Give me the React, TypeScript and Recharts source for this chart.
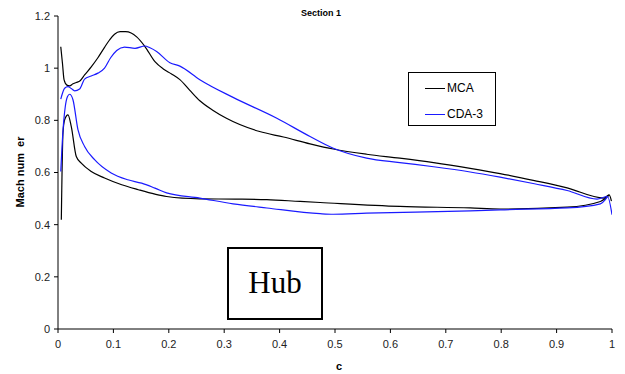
import React from "react";
import { LineChart, Line, XAxis, YAxis } from "recharts";

const xTicks = [0, 0.1, 0.2, 0.3, 0.4, 0.5, 0.6, 0.7, 0.8, 0.9, 1];
const yTicks = [0, 0.2, 0.4, 0.6, 0.8, 1, 1.2];

const mcaUpper = [
  { c: 0.005, m: 1.082 }, { c: 0.008, m: 1.02 }, { c: 0.011, m: 0.955 }, { c: 0.016, m: 0.935 },
  { c: 0.021, m: 0.932 }, { c: 0.027, m: 0.94 }, { c: 0.033, m: 0.945 }, { c: 0.04, m: 0.952 },
  { c: 0.048, m: 0.974 }, { c: 0.06, m: 1.005 }, { c: 0.072, m: 1.04 }, { c: 0.084, m: 1.08 },
  { c: 0.093, m: 1.108 }, { c: 0.102, m: 1.13 }, { c: 0.112, m: 1.14 }, { c: 0.122, m: 1.14 },
  { c: 0.132, m: 1.135 }, { c: 0.142, m: 1.12 }, { c: 0.157, m: 1.083 }, { c: 0.175, m: 1.025 },
  { c: 0.19, m: 0.997 }, { c: 0.205, m: 0.978 }, { c: 0.22, m: 0.956 }, { c: 0.238, m: 0.915 },
  { c: 0.256, m: 0.875 }, { c: 0.28, m: 0.838 }, { c: 0.304, m: 0.808 }, { c: 0.364, m: 0.757 },
  { c: 0.407, m: 0.736 }, { c: 0.455, m: 0.71 }, { c: 0.497, m: 0.69 }, { c: 0.557, m: 0.67 },
  { c: 0.617, m: 0.655 }, { c: 0.678, m: 0.638 }, { c: 0.744, m: 0.616 }, { c: 0.798, m: 0.596 },
  { c: 0.86, m: 0.569 }, { c: 0.919, m: 0.541 }, { c: 0.985, m: 0.502 }, { c: 0.995, m: 0.514 },
  { c: 0.999, m: 0.49 },
];

const mcaLower = [
  { c: 0.006, m: 0.419 }, { c: 0.009, m: 0.752 }, { c: 0.012, m: 0.802 }, { c: 0.018, m: 0.821 },
  { c: 0.024, m: 0.776 }, { c: 0.033, m: 0.661 }, { c: 0.042, m: 0.636 }, { c: 0.06, m: 0.604 },
  { c: 0.084, m: 0.579 }, { c: 0.115, m: 0.553 }, { c: 0.145, m: 0.534 }, { c: 0.175, m: 0.517 },
  { c: 0.196, m: 0.508 }, { c: 0.256, m: 0.499 }, { c: 0.32, m: 0.498 }, { c: 0.377, m: 0.496 },
  { c: 0.437, m: 0.489 }, { c: 0.473, m: 0.485 }, { c: 0.617, m: 0.47 }, { c: 0.744, m: 0.464 },
  { c: 0.798, m: 0.46 }, { c: 0.919, m: 0.467 }, { c: 0.979, m: 0.489 }, { c: 0.995, m: 0.514 },
];

const cdaUpper = [
  { c: 0.005, m: 0.881 }, { c: 0.012, m: 0.923 }, { c: 0.018, m: 0.929 }, { c: 0.024, m: 0.922 },
  { c: 0.03, m: 0.913 }, { c: 0.039, m: 0.92 }, { c: 0.048, m: 0.958 }, { c: 0.06, m: 0.97 },
  { c: 0.072, m: 0.981 }, { c: 0.084, m: 1.0 }, { c: 0.095, m: 1.04 }, { c: 0.106, m: 1.068 },
  { c: 0.12, m: 1.081 }, { c: 0.139, m: 1.076 }, { c: 0.157, m: 1.085 }, { c: 0.166, m: 1.078 },
  { c: 0.178, m: 1.064 }, { c: 0.202, m: 1.021 }, { c: 0.22, m: 1.008 }, { c: 0.256, m: 0.956 },
  { c: 0.316, m: 0.888 }, { c: 0.395, m: 0.808 }, { c: 0.455, m: 0.738 }, { c: 0.497, m: 0.693 },
  { c: 0.557, m: 0.655 }, { c: 0.617, m: 0.638 }, { c: 0.678, m: 0.622 }, { c: 0.744, m: 0.602 },
  { c: 0.798, m: 0.582 }, { c: 0.86, m: 0.557 }, { c: 0.919, m: 0.531 }, { c: 0.973, m: 0.498 },
  { c: 0.992, m: 0.508 }, { c: 1.0, m: 0.438 },
];

const cdaLower = [
  { c: 0.005, m: 0.604 }, { c: 0.009, m: 0.76 }, { c: 0.013, m: 0.85 }, { c: 0.017, m: 0.89 },
  { c: 0.021, m: 0.9 }, { c: 0.027, m: 0.879 }, { c: 0.036, m: 0.764 }, { c: 0.048, m: 0.7 },
  { c: 0.066, m: 0.649 }, { c: 0.096, m: 0.598 }, { c: 0.126, m: 0.572 }, { c: 0.151, m: 0.559 },
  { c: 0.175, m: 0.54 }, { c: 0.196, m: 0.522 }, { c: 0.256, m: 0.502 }, { c: 0.316, m: 0.48 },
  { c: 0.377, m: 0.464 }, { c: 0.473, m: 0.442 }, { c: 0.497, m: 0.44 }, { c: 0.557, m: 0.444 },
  { c: 0.744, m: 0.453 }, { c: 0.798, m: 0.457 }, { c: 0.919, m: 0.464 }, { c: 0.979, m: 0.48 },
  { c: 0.988, m: 0.496 }, { c: 0.992, m: 0.508 },
];

const seriesNames = ["MCA", "CDA-3"];
const seriesColors = ["#000000", "#1a1aff"];

const tickStyle = { fontFamily: "Liberation Sans, Arial, sans-serif", fontSize: 11, fill: "#222" };

export default function App() {
  return (
    <div style={{ position: "absolute", left: 0, top: 0, width: 625, height: 374, background: "#fff" }}>
      <LineChart width={625} height={374} margin={{ top: 16, right: 13, bottom: 0, left: 0 }}>
        <XAxis
          type="number"
          dataKey="c"
          domain={[0, 1]}
          ticks={xTicks}
          tick={tickStyle}
          tickSize={4}
          tickMargin={7}
          height={45}
          stroke="#000"
          allowDataOverflow
        />
        <YAxis
          type="number"
          dataKey="m"
          domain={[0, 1.2]}
          ticks={yTicks}
          tick={tickStyle}
          tickSize={4}
          tickMargin={4}
          width={58}
          stroke="#000"
          allowDataOverflow
        />
        <Line data={mcaUpper} dataKey="m" type="monotone" stroke={seriesColors[0]} strokeWidth={1.2} dot={false} activeDot={false} isAnimationActive={false} />
        <Line data={mcaLower} dataKey="m" type="monotone" stroke={seriesColors[0]} strokeWidth={1.2} dot={false} activeDot={false} isAnimationActive={false} />
        <Line data={cdaUpper} dataKey="m" type="monotone" stroke={seriesColors[1]} strokeWidth={1.2} dot={false} activeDot={false} isAnimationActive={false} />
        <Line data={cdaLower} dataKey="m" type="monotone" stroke={seriesColors[1]} strokeWidth={1.2} dot={false} activeDot={false} isAnimationActive={false} />
      </LineChart>

      <div style={{ position: "absolute", left: 0, top: 7, width: 642, textAlign: "center", fontFamily: "Liberation Sans, Arial, sans-serif", fontSize: 9, fontWeight: "bold", color: "#000", lineHeight: "12px" }}>
        Section 1
      </div>

      <div style={{ position: "absolute", left: 20, top: 172, width: 0, height: 0 }}>
        <div style={{ position: "absolute", transform: "translate(-50%, -50%) rotate(-90deg)", whiteSpace: "pre", fontFamily: "Liberation Sans, Arial, sans-serif", fontSize: 11, fontWeight: "bold", color: "#000", lineHeight: "14px" }}>
          Mach num  er
        </div>
      </div>

      <div style={{ position: "absolute", left: 330, top: 359, width: 18, textAlign: "center", fontFamily: "Liberation Sans, Arial, sans-serif", fontSize: 11, fontWeight: "bold", color: "#000", lineHeight: "14px" }}>
        c
      </div>

      <div style={{ position: "absolute", left: 408, top: 72, width: 88, height: 54, border: "1px solid #000", boxSizing: "border-box", background: "#fff" }}>
        {seriesNames.map((n, i) => (
          <div key={n} style={{ position: "absolute", left: 16, top: i === 0 ? 8 : 34, height: 14, display: "flex", alignItems: "center" }}>
            <div style={{ width: 20, height: 0, borderTop: `1.2px solid ${seriesColors[i]}` }} />
            <span style={{ marginLeft: 2, fontFamily: "Liberation Sans, Arial, sans-serif", fontSize: 12, color: "#000", lineHeight: "14px" }}>{n}</span>
          </div>
        ))}
      </div>

      <div style={{ position: "absolute", left: 227, top: 247, width: 96, height: 73, border: "2.5px solid #000", boxSizing: "border-box", background: "#fff", display: "flex", alignItems: "center", justifyContent: "center" }}>
        <span style={{ fontFamily: "Liberation Serif, Times New Roman, serif", fontSize: 31, color: "#000", lineHeight: "34px", marginTop: -2 }}>Hub</span>
      </div>
    </div>
  );
}
